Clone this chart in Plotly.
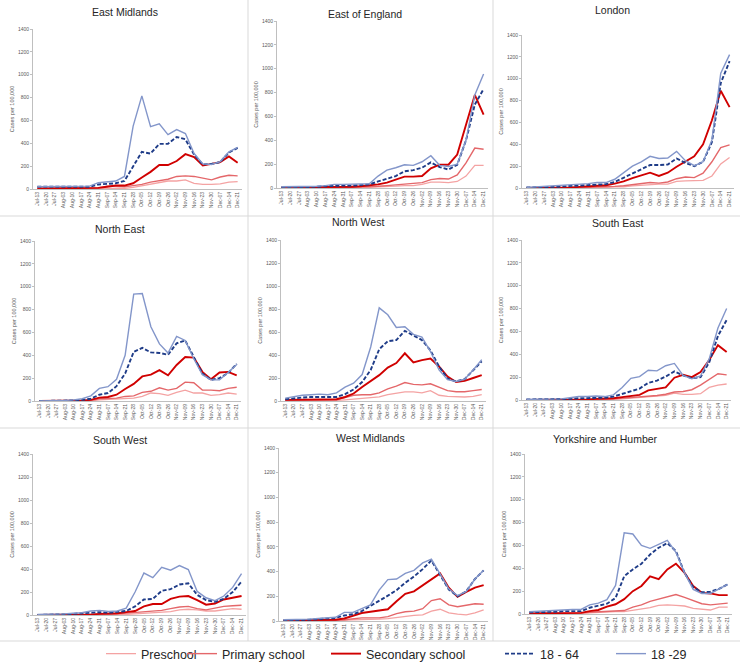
import plotly.graph_objects as go

# ---------------- data ----------------
WEEKS = ["Jul-13", "Jul-20", "Jul-27", "Aug-03", "Aug-10", "Aug-17", "Aug-24", "Aug-31",
         "Sep-07", "Sep-14", "Sep-21", "Sep-28", "Oct-05", "Oct-12", "Oct-19", "Oct-26",
         "Nov-02", "Nov-09", "Nov-16", "Nov-23", "Nov-30", "Dec-07", "Dec-14", "Dec-21"]

SERIES_NAMES = ["Preschool", "Primary school", "Secondary school", "18 - 64", "18 -29"]

EM_PRE = [5, 5, 5, 5, 5, 5, 5, 5, 10, 10, 5, 15, 30, 45, 55, 70, 70, 80, 50, 40, 40, 45, 60, 65]
EM_PRI = [5, 5, 5, 5, 5, 5, 5, 10, 25, 25, 20, 30, 40, 60, 75, 85, 110, 115, 110, 95, 80, 105, 120, 115]
EM_SEC = [5, 5, 5, 5, 5, 5, 5, 10, 20, 30, 30, 50, 100, 150, 210, 210, 245, 305, 280, 205, 220, 235, 285, 230]
EM_A64 = [20, 20, 20, 20, 25, 22, 20, 40, 45, 50, 70, 200, 325, 310, 395, 395, 455, 435, 300, 215, 220, 235, 320, 360]
EM_A29 = [20, 20, 20, 20, 25, 25, 25, 55, 60, 70, 110, 550, 815, 545, 570, 475, 520, 485, 310, 220, 215, 240, 325, 365]

EE_PRE = [0, 0, 0, 0, 0, 5, 5, 5, 5, 5, 5, 10, 10, 15, 20, 20, 30, 50, 50, 45, 55, 100, 190, 190]
EE_PRI = [0, 0, 0, 0, 5, 5, 5, 5, 5, 10, 10, 15, 20, 25, 35, 40, 45, 70, 80, 75, 110, 210, 335, 325]
EE_SEC = [5, 5, 5, 5, 5, 5, 5, 10, 10, 15, 20, 30, 45, 70, 95, 95, 100, 165, 195, 195, 280, 530, 780, 615]
EE_A64 = [5, 5, 5, 5, 10, 15, 20, 20, 20, 25, 30, 55, 80, 100, 140, 150, 170, 215, 175, 155, 195, 400, 700, 830]
EE_A29 = [10, 10, 10, 10, 15, 20, 30, 30, 30, 30, 35, 100, 150, 170, 195, 190, 220, 270, 190, 180, 200, 400, 780, 955]

LO_PRE = [0, 0, 0, 0, 0, 5, 5, 5, 5, 5, 10, 10, 20, 25, 35, 35, 35, 60, 65, 65, 70, 110, 220, 280]
LO_PRI = [0, 0, 0, 0, 5, 5, 5, 5, 10, 10, 15, 20, 30, 40, 50, 45, 55, 85, 100, 95, 135, 240, 370, 395]
LO_SEC = [0, 0, 5, 5, 5, 5, 10, 15, 20, 25, 40, 60, 90, 115, 140, 110, 140, 195, 240, 290, 400, 620, 890, 740]
LO_A64 = [5, 5, 10, 10, 15, 20, 25, 30, 35, 35, 55, 95, 130, 170, 210, 210, 215, 270, 230, 200, 240, 420, 960, 1160]
LO_A29 = [5, 10, 10, 15, 20, 30, 35, 40, 50, 50, 80, 140, 200, 240, 290, 270, 275, 335, 250, 205, 240, 440, 1050, 1220]

NE_PRE = [0, 0, 0, 0, 0, 0, 0, 10, 15, 15, 25, 25, 40, 70, 65, 50, 75, 95, 70, 70, 50, 55, 70, 60]
NE_PRI = [0, 0, 0, 0, 0, 0, 5, 20, 25, 25, 40, 45, 75, 85, 115, 95, 110, 165, 160, 95, 95, 90, 110, 120]
NE_SEC = [0, 0, 0, 0, 0, 5, 10, 30, 35, 55, 105, 150, 215, 230, 270, 225, 315, 385, 380, 255, 190, 250, 255, 225]
NE_A64 = [0, 0, 0, 0, 5, 10, 20, 55, 70, 130, 240, 430, 465, 425, 420, 405, 505, 530, 380, 240, 185, 200, 245, 325]
NE_A29 = [0, 0, 0, 5, 10, 20, 45, 110, 125, 190, 400, 935, 940, 650, 500, 420, 565, 530, 370, 230, 185, 185, 250, 320]

NW_PRE = [0, 0, 0, 0, 5, 5, 5, 10, 15, 20, 25, 35, 55, 65, 80, 80, 70, 90, 50, 40, 35, 35, 40, 55]
NW_PRI = [5, 5, 5, 5, 5, 5, 10, 30, 50, 55, 55, 70, 105, 130, 160, 145, 140, 150, 120, 90, 80, 80, 90, 100]
NW_SEC = [10, 10, 10, 10, 10, 10, 15, 35, 65, 122, 175, 225, 290, 330, 415, 335, 355, 370, 300, 212, 165, 175, 200, 225]
NW_A64 = [15, 25, 30, 35, 35, 35, 35, 60, 100, 165, 270, 450, 520, 530, 610, 570, 530, 440, 300, 195, 170, 190, 265, 345]
NW_A29 = [25, 40, 50, 55, 60, 55, 70, 120, 155, 230, 470, 810, 750, 640, 645, 580, 555, 430, 270, 185, 170, 190, 270, 360]

SE_PRE = [0, 0, 0, 0, 0, 0, 0, 5, 5, 5, 5, 10, 15, 20, 25, 30, 40, 60, 50, 50, 55, 110, 130, 140]
SE_PRI = [0, 0, 0, 0, 0, 0, 0, 5, 5, 5, 10, 15, 20, 30, 35, 40, 50, 70, 75, 90, 130, 180, 230, 220]
SE_SEC = [0, 0, 0, 0, 0, 5, 5, 5, 10, 10, 15, 25, 35, 45, 85, 95, 110, 195, 220, 200, 245, 350, 480, 420]
SE_A64 = [5, 5, 5, 5, 5, 10, 15, 15, 20, 20, 30, 55, 80, 100, 150, 170, 205, 250, 215, 190, 200, 330, 560, 700]
SE_A29 = [5, 5, 5, 5, 10, 20, 30, 30, 35, 30, 45, 110, 190, 205, 260, 255, 300, 320, 215, 185, 210, 360, 630, 800]

SW_PRE = [0, 0, 0, 0, 0, 0, 0, 0, 5, 5, 5, 10, 15, 20, 25, 30, 45, 50, 45, 35, 35, 45, 55, 50]
SW_PRI = [0, 0, 0, 0, 0, 0, 5, 5, 5, 10, 15, 20, 30, 35, 40, 55, 70, 75, 55, 45, 60, 75, 80, 85]
SW_SEC = [0, 0, 0, 0, 0, 5, 5, 10, 10, 15, 25, 35, 75, 95, 95, 140, 160, 165, 130, 90, 100, 135, 150, 165]
SW_A64 = [0, 5, 5, 5, 10, 15, 20, 25, 20, 25, 35, 75, 135, 140, 210, 225, 265, 275, 175, 130, 115, 140, 200, 290]
SW_A29 = [5, 5, 10, 10, 15, 20, 35, 40, 30, 35, 60, 200, 365, 325, 415, 390, 430, 395, 205, 150, 125, 165, 240, 360]

WM_PRE = [0, 0, 0, 0, 0, 0, 0, 5, 10, 10, 10, 15, 20, 30, 35, 45, 50, 80, 95, 65, 55, 50, 65, 90]
WM_PRI = [0, 0, 0, 0, 5, 5, 5, 10, 20, 25, 25, 25, 35, 60, 75, 80, 100, 165, 180, 130, 115, 125, 140, 135]
WM_SEC = [5, 5, 5, 5, 5, 5, 10, 20, 45, 65, 75, 85, 95, 160, 220, 240, 290, 340, 385, 270, 195, 235, 270, 290]
WM_A64 = [5, 5, 5, 10, 15, 20, 25, 45, 55, 80, 120, 160, 205, 250, 310, 360, 420, 490, 370, 255, 200, 240, 340, 410]
WM_A29 = [10, 10, 10, 15, 20, 25, 30, 70, 70, 100, 130, 250, 335, 340, 385, 410, 470, 500, 380, 260, 205, 240, 340, 410]

YH_PRE = [0, 0, 0, 0, 5, 5, 5, 10, 15, 20, 20, 20, 30, 40, 55, 75, 80, 75, 70, 50, 40, 35, 60, 60]
YH_PRI = [5, 5, 5, 5, 5, 5, 10, 15, 20, 25, 25, 30, 60, 80, 110, 130, 150, 170, 145, 115, 90, 80, 85, 95]
YH_SEC = [5, 5, 5, 10, 10, 10, 10, 25, 35, 65, 85, 130, 200, 245, 330, 305, 390, 440, 360, 245, 185, 180, 165, 165]
YH_A64 = [15, 15, 20, 20, 25, 25, 25, 55, 70, 90, 140, 330, 390, 440, 520, 580, 620, 550, 360, 235, 190, 195, 220, 260]
YH_A29 = [20, 25, 25, 30, 35, 40, 40, 80, 95, 125, 250, 710, 700, 600, 575, 610, 645, 540, 360, 215, 180, 180, 220, 260]

REGION_TITLES = ["East Midlands", "East of England", "London",
                 "North East", "North West", "South East",
                 "South West", "West Midlands", "Yorkshire and Humber"]
REGION_DATA = [
    [EM_PRE, EM_PRI, EM_SEC, EM_A64, EM_A29],
    [EE_PRE, EE_PRI, EE_SEC, EE_A64, EE_A29],
    [LO_PRE, LO_PRI, LO_SEC, LO_A64, LO_A29],
    [NE_PRE, NE_PRI, NE_SEC, NE_A64, NE_A29],
    [NW_PRE, NW_PRI, NW_SEC, NW_A64, NW_A29],
    [SE_PRE, SE_PRI, SE_SEC, SE_A64, SE_A29],
    [SW_PRE, SW_PRI, SW_SEC, SW_A64, SW_A29],
    [WM_PRE, WM_PRI, WM_SEC, WM_A64, WM_A29],
    [YH_PRE, YH_PRI, YH_SEC, YH_A64, YH_A29],
]

# ---------------- styling / layout ----------------
W, H = 740, 668
COLORS = ["#F4A3A3", "#E4676A", "#D00000", "#1F3C88", "#8396CA"]
WIDTHS = [1.3, 1.4, 1.9, 1.9, 1.4]
DASHES = ["solid", "solid", "solid", "4px,2px", "solid"]

# plot-area rectangles in pixels: x0, x1, y_top, y_bottom
RECTS = [
    (33, 242, 29, 189), (277, 488, 21, 188), (522, 734, 35, 188),
    (35, 241, 241, 401), (281, 486, 240, 401), (522, 731, 240, 400),
    (33, 246, 454, 615), (279, 488, 448, 621), (525, 732, 454, 614),
]
TITLE_POS = [(125, 12), (365, 14), (612, 10),
             (120, 229), (358, 222), (617, 223),
             (120, 440), (370, 438), (605, 439)]

FONT = "Liberation Sans, Arial, sans-serif"

fig = go.Figure()
layout = dict(
    width=W, height=H, margin=dict(l=0, r=0, t=0, b=0, autoexpand=False),
    paper_bgcolor="white", plot_bgcolor="white",
    font=dict(family=FONT, color="#404040"),
    annotations=[], shapes=[],
)

for i, (title, data) in enumerate(zip(REGION_TITLES, REGION_DATA)):
    k = i + 1
    xa = "x" if k == 1 else f"x{k}"
    ya = "y" if k == 1 else f"y{k}"
    x0, x1, yt, yb = RECTS[i]
    for s, (name, vals) in enumerate(zip(SERIES_NAMES, data)):
        fig.add_trace(go.Scatter(
            x=WEEKS, y=vals, mode="lines", name=name,
            line=dict(color=COLORS[s], width=WIDTHS[s], dash=DASHES[s]),
            xaxis=xa, yaxis=ya,
            showlegend=(i == 0),
            legend="legend" if s == 0 else f"legend{s + 1}",
        ))
    layout[f"xaxis{k}" if k > 1 else "xaxis"] = dict(
        domain=[x0 / W, x1 / W], anchor=ya, type="category",
        range=[-0.5, len(WEEKS) - 0.5], tickangle=-90,
        tickfont=dict(size=5, color="#595959"), showline=True,
        linecolor="#BFBFBF", linewidth=1, showgrid=False, zeroline=False,
        ticks="", fixedrange=True, automargin=False,
    )
    layout[f"yaxis{k}" if k > 1 else "yaxis"] = dict(
        domain=[1 - yb / H, 1 - yt / H], anchor=xa, range=[0, 1400],
        dtick=200, tickfont=dict(size=5, color="#595959"), showline=True,
        linecolor="#BFBFBF", linewidth=1, showgrid=False, zeroline=False,
        ticks="outside", ticklen=2, tickcolor="#BFBFBF",
        title=dict(text="Cases per 100,000", font=dict(size=5.5, color="#595959"),
                   standoff=2),
        fixedrange=True, automargin=False,
    )
    tx, ty = TITLE_POS[i]
    layout["annotations"].append(dict(
        text=title, x=tx / W, y=1 - ty / H, xref="paper", yref="paper",
        showarrow=False, xanchor="center", yanchor="middle",
        font=dict(size=10.5, color="#262626", family=FONT),
    ))

# panel separators
SEP_COLOR = "#D9D9D9"
for vx in (248, 493):
    layout["shapes"].append(dict(type="line", xref="paper", yref="paper",
                                 x0=vx / W, x1=vx / W, y0=1 - 641 / H, y1=1,
                                 line=dict(color=SEP_COLOR, width=1)))
for hy in (216, 428, 641):
    layout["shapes"].append(dict(type="line", xref="paper", yref="paper",
                                 x0=0, x1=1, y0=1 - hy / H, y1=1 - hy / H,
                                 line=dict(color=SEP_COLOR, width=1)))

# legends (one per series, placed along the bottom strip)
LEG_TEXT_X = [141, 222, 366, 540, 651]
for s, tx in enumerate(LEG_TEXT_X):
    key = "legend" if s == 0 else f"legend{s + 1}"
    layout[key] = dict(
        x=(tx - 40) / W, xanchor="left", y=1 - 654 / H, yanchor="middle",
        xref="container", yref="container",
        orientation="h", bgcolor="rgba(0,0,0,0)", borderwidth=0,
        font=dict(size=12.5, family=FONT, color="#262626"),
        itemwidth=30, tracegroupgap=0,
    )

fig.update_layout(**layout)
fig.write_html(
    "out.html",
    config={"displayModeBar": False},
    post_script="document.body.style.margin='0';document.body.style.padding='0';"
                "document.documentElement.style.overflow='hidden';",
)
